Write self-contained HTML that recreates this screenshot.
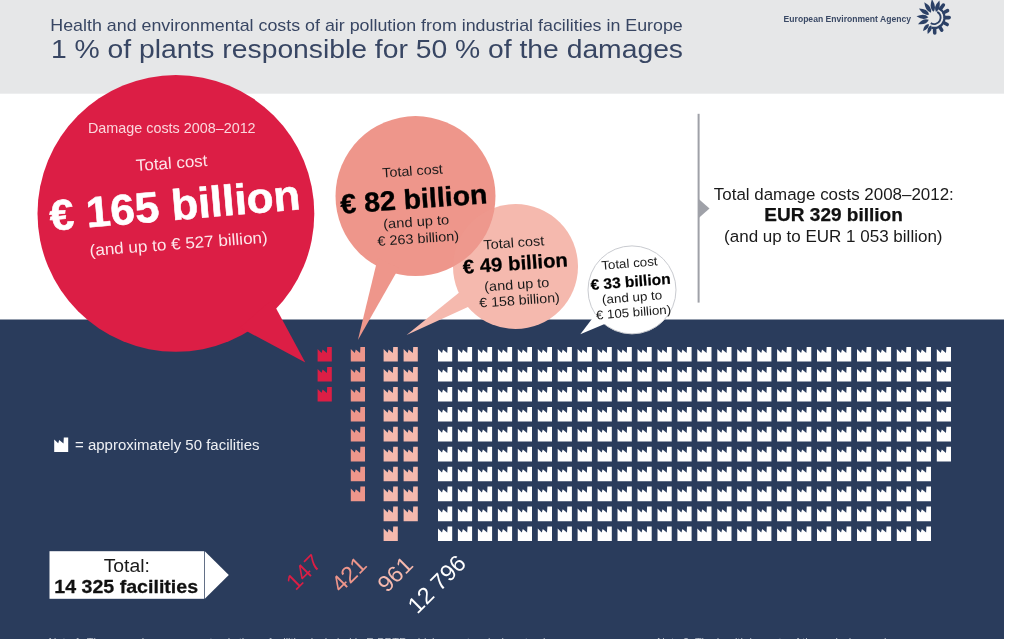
<!DOCTYPE html>
<html lang="en">
<head>
<meta charset="utf-8">
<title>1 % of plants responsible for 50 % of the damages</title>
<style>
html,body{margin:0;padding:0;background:#ffffff;}
body{width:1024px;height:639px;overflow:hidden;font-family:"Liberation Sans",sans-serif;}
svg{display:block;}
svg text{font-family:"Liberation Sans",sans-serif;}
</style>
</head>
<body>
<svg width="1024" height="639" viewBox="0 0 1024 639">
<rect x="0" y="0" width="1024" height="639" fill="#ffffff"/>
<rect x="0" y="0" width="1004" height="93.7" fill="#e6e7e8"/>
<rect x="0" y="319.5" width="1004" height="320" fill="#2a3c5c"/>
<!-- bubbles -->
<g fill="#dc1e45">
<circle cx="175.9" cy="213.4" r="138.4"/>
<path d="M240 327.6 L305.3 362.5 L271.6 300Z"/>
</g>
<g fill="#f5b9ae">
<circle cx="515.5" cy="266.5" r="62.5"/>
<path d="M466 286.9 L406.6 335 L480 301.4Z"/>
</g>
<g fill="#ee968b">
<circle cx="415.5" cy="196.1" r="80"/>
<path d="M377.8 258 L357.9 340.1 L398.9 268Z"/>
</g>
<clipPath id="c2"><circle cx="415.5" cy="196.1" r="80"/></clipPath>
<circle cx="515.5" cy="266.5" r="62.5" fill="#f5b9ae" opacity="0.07" clip-path="url(#c2)"/>
<g fill="#ffffff">
<circle cx="632" cy="289.9" r="44" stroke="#c9cbd0" stroke-width="1"/>
<path d="M596.3 313.3 L580.3 334.2 L607 323.1Z"/>
</g>
<!-- right divider -->
<rect x="697.6" y="113.8" width="2" height="188.8" fill="#9fa1a8"/>
<path d="M699 199.3 L709.5 208.5 L699 217.7Z" fill="#9fa1a8"/>
<!-- logo -->
<g fill="#2b4066" transform="translate(934.2 17.6) scale(1.045) translate(-934.2 -17.6)"><path d="M933.52 12.04 Q937.05 7.58 932.04 0.03 Q929.01 8.57 933.52 12.04Z"/><path d="M935.84 12.24 Q940.88 9.60 939.20 1.25 Q933.13 7.24 935.84 12.24Z"/><line x1="940.43" y1="9.02" x2="942.96" y2="5.55" stroke="#2b4066" stroke-width="3.4" stroke-linecap="round"/><line x1="943.60" y1="12.71" x2="946.97" y2="10.95" stroke="#2b4066" stroke-width="3.4" stroke-linecap="round"/><line x1="944.80" y1="17.60" x2="948.50" y2="17.60" stroke="#2b4066" stroke-width="3.4" stroke-linecap="round"/><line x1="943.56" y1="22.58" x2="946.65" y2="24.22" stroke="#2b4066" stroke-width="3.4" stroke-linecap="round"/><line x1="939.66" y1="26.69" x2="941.41" y2="29.60" stroke="#2b4066" stroke-width="3.4" stroke-linecap="round"/><line x1="934.57" y1="28.19" x2="934.71" y2="32.29" stroke="#2b4066" stroke-width="3.4" stroke-linecap="round"/><path d="M931.26 25.04 Q926.94 26.56 927.98 33.31 Q933.36 29.10 931.26 25.04Z"/><path d="M929.06 23.73 Q924.49 23.81 923.47 30.39 Q929.77 28.24 929.06 23.73Z"/><path d="M929.01 19.70 Q923.78 17.44 918.72 23.86 Q926.82 24.95 929.01 19.70Z"/><path d="M928.61 17.21 Q924.91 12.89 917.24 16.41 Q924.34 20.97 928.61 17.21Z"/><path d="M929.38 14.75 Q928.00 9.23 919.65 9.00 Q923.88 16.20 929.38 14.75Z"/><path d="M931.15 12.90 Q932.37 7.34 924.72 3.01 Q925.57 11.75 931.15 12.90Z"/><path d="M938.85 8.86 A9.9 9.9 0 0 1 931.47 27.12" fill="none" stroke="#2b4066" stroke-width="2.2"/><path d="M937.11 12.13 A6.2 6.2 0 1 1 930.91 22.86" fill="none" stroke="#2b4066" stroke-width="1.8"/></g>
<!-- icons -->
<path fill="#dc1e45" d="M317.6 349.0 L321.6 352.9 L322.6 349.6 L326.9 353.1 L327.2 347.0 L331.8 347.0 L331.8 361.6 L317.6 361.6ZM317.6 368.9 L321.6 372.8 L322.6 369.6 L326.9 373.1 L327.2 366.9 L331.8 366.9 L331.8 381.6 L317.6 381.6ZM317.6 388.9 L321.6 392.8 L322.6 389.5 L326.9 393.0 L327.2 386.9 L331.8 386.9 L331.8 401.5 L317.6 401.5Z"/>
<path fill="#ee968b" d="M350.8 349.0 L354.8 352.9 L355.8 349.6 L360.1 353.1 L360.4 347.0 L365.0 347.0 L365.0 361.6 L350.8 361.6ZM350.8 368.9 L354.8 372.8 L355.8 369.6 L360.1 373.1 L360.4 366.9 L365.0 366.9 L365.0 381.6 L350.8 381.6ZM350.8 388.9 L354.8 392.8 L355.8 389.5 L360.1 393.0 L360.4 386.9 L365.0 386.9 L365.0 401.5 L350.8 401.5ZM350.8 408.9 L354.8 412.8 L355.8 409.5 L360.1 413.0 L360.4 406.9 L365.0 406.9 L365.0 421.5 L350.8 421.5ZM350.8 428.8 L354.8 432.7 L355.8 429.4 L360.1 432.9 L360.4 426.8 L365.0 426.8 L365.0 441.4 L350.8 441.4ZM350.8 448.8 L354.8 452.6 L355.8 449.4 L360.1 452.9 L360.4 446.8 L365.0 446.8 L365.0 461.4 L350.8 461.4ZM350.8 468.7 L354.8 472.6 L355.8 469.3 L360.1 472.8 L360.4 466.7 L365.0 466.7 L365.0 481.3 L350.8 481.3ZM350.8 488.6 L354.8 492.5 L355.8 489.2 L360.1 492.8 L360.4 486.6 L365.0 486.6 L365.0 501.2 L350.8 501.2Z"/>
<path fill="#f5b9ae" d="M383.6 349.0 L387.6 352.9 L388.6 349.6 L392.9 353.1 L393.2 347.0 L397.8 347.0 L397.8 361.6 L383.6 361.6ZM383.6 368.9 L387.6 372.8 L388.6 369.6 L392.9 373.1 L393.2 366.9 L397.8 366.9 L397.8 381.6 L383.6 381.6ZM383.6 388.9 L387.6 392.8 L388.6 389.5 L392.9 393.0 L393.2 386.9 L397.8 386.9 L397.8 401.5 L383.6 401.5ZM383.6 408.9 L387.6 412.8 L388.6 409.5 L392.9 413.0 L393.2 406.9 L397.8 406.9 L397.8 421.5 L383.6 421.5ZM383.6 428.8 L387.6 432.7 L388.6 429.4 L392.9 432.9 L393.2 426.8 L397.8 426.8 L397.8 441.4 L383.6 441.4ZM383.6 448.8 L387.6 452.6 L388.6 449.4 L392.9 452.9 L393.2 446.8 L397.8 446.8 L397.8 461.4 L383.6 461.4ZM383.6 468.7 L387.6 472.6 L388.6 469.3 L392.9 472.8 L393.2 466.7 L397.8 466.7 L397.8 481.3 L383.6 481.3ZM383.6 488.6 L387.6 492.5 L388.6 489.2 L392.9 492.8 L393.2 486.6 L397.8 486.6 L397.8 501.2 L383.6 501.2ZM383.6 508.6 L387.6 512.5 L388.6 509.2 L392.9 512.7 L393.2 506.6 L397.8 506.6 L397.8 521.2 L383.6 521.2ZM383.6 528.5 L387.6 532.4 L388.6 529.1 L392.9 532.6 L393.2 526.5 L397.8 526.5 L397.8 541.1 L383.6 541.1ZM403.6 349.0 L407.6 352.9 L408.6 349.6 L412.9 353.1 L413.2 347.0 L417.8 347.0 L417.8 361.6 L403.6 361.6ZM403.6 368.9 L407.6 372.8 L408.6 369.6 L412.9 373.1 L413.2 366.9 L417.8 366.9 L417.8 381.6 L403.6 381.6ZM403.6 388.9 L407.6 392.8 L408.6 389.5 L412.9 393.0 L413.2 386.9 L417.8 386.9 L417.8 401.5 L403.6 401.5ZM403.6 408.9 L407.6 412.8 L408.6 409.5 L412.9 413.0 L413.2 406.9 L417.8 406.9 L417.8 421.5 L403.6 421.5ZM403.6 428.8 L407.6 432.7 L408.6 429.4 L412.9 432.9 L413.2 426.8 L417.8 426.8 L417.8 441.4 L403.6 441.4ZM403.6 448.8 L407.6 452.6 L408.6 449.4 L412.9 452.9 L413.2 446.8 L417.8 446.8 L417.8 461.4 L403.6 461.4ZM403.6 468.7 L407.6 472.6 L408.6 469.3 L412.9 472.8 L413.2 466.7 L417.8 466.7 L417.8 481.3 L403.6 481.3ZM403.6 488.6 L407.6 492.5 L408.6 489.2 L412.9 492.8 L413.2 486.6 L417.8 486.6 L417.8 501.2 L403.6 501.2ZM403.6 508.6 L407.6 512.5 L408.6 509.2 L412.9 512.7 L413.2 506.6 L417.8 506.6 L417.8 521.2 L403.6 521.2Z"/>
<path fill="#ffffff" d="M438.0 349.0 L442.0 352.9 L443.0 349.6 L447.3 353.1 L447.6 347.0 L452.2 347.0 L452.2 361.6 L438.0 361.6ZM457.9 349.0 L461.9 352.9 L462.9 349.6 L467.2 353.1 L467.6 347.0 L472.1 347.0 L472.1 361.6 L457.9 361.6ZM477.9 349.0 L481.9 352.9 L482.9 349.6 L487.2 353.1 L487.5 347.0 L492.1 347.0 L492.1 361.6 L477.9 361.6ZM497.9 349.0 L501.9 352.9 L502.9 349.6 L507.2 353.1 L507.5 347.0 L512.1 347.0 L512.1 361.6 L497.9 361.6ZM517.8 349.0 L521.8 352.9 L522.8 349.6 L527.1 353.1 L527.4 347.0 L532.0 347.0 L532.0 361.6 L517.8 361.6ZM537.8 349.0 L541.8 352.9 L542.8 349.6 L547.0 353.1 L547.4 347.0 L552.0 347.0 L552.0 361.6 L537.8 361.6ZM557.7 349.0 L561.7 352.9 L562.7 349.6 L567.0 353.1 L567.3 347.0 L571.9 347.0 L571.9 361.6 L557.7 361.6ZM577.6 349.0 L581.6 352.9 L582.6 349.6 L586.9 353.1 L587.2 347.0 L591.9 347.0 L591.9 361.6 L577.6 361.6ZM597.6 349.0 L601.6 352.9 L602.6 349.6 L606.9 353.1 L607.2 347.0 L611.8 347.0 L611.8 361.6 L597.6 361.6ZM617.5 349.0 L621.5 352.9 L622.5 349.6 L626.8 353.1 L627.1 347.0 L631.8 347.0 L631.8 361.6 L617.5 361.6ZM637.5 349.0 L641.5 352.9 L642.5 349.6 L646.8 353.1 L647.1 347.0 L651.7 347.0 L651.7 361.6 L637.5 361.6ZM657.5 349.0 L661.5 352.9 L662.5 349.6 L666.8 353.1 L667.1 347.0 L671.7 347.0 L671.7 361.6 L657.5 361.6ZM677.4 349.0 L681.4 352.9 L682.4 349.6 L686.7 353.1 L687.0 347.0 L691.6 347.0 L691.6 361.6 L677.4 361.6ZM697.3 349.0 L701.3 352.9 L702.3 349.6 L706.6 353.1 L706.9 347.0 L711.5 347.0 L711.5 361.6 L697.3 361.6ZM717.3 349.0 L721.3 352.9 L722.3 349.6 L726.6 353.1 L726.9 347.0 L731.5 347.0 L731.5 361.6 L717.3 361.6ZM737.2 349.0 L741.2 352.9 L742.2 349.6 L746.5 353.1 L746.9 347.0 L751.5 347.0 L751.5 361.6 L737.2 361.6ZM757.2 349.0 L761.2 352.9 L762.2 349.6 L766.5 353.1 L766.8 347.0 L771.4 347.0 L771.4 361.6 L757.2 361.6ZM777.1 349.0 L781.1 352.9 L782.1 349.6 L786.4 353.1 L786.8 347.0 L791.4 347.0 L791.4 361.6 L777.1 361.6ZM797.1 349.0 L801.1 352.9 L802.1 349.6 L806.4 353.1 L806.7 347.0 L811.3 347.0 L811.3 361.6 L797.1 361.6ZM817.0 349.0 L821.0 352.9 L822.0 349.6 L826.3 353.1 L826.6 347.0 L831.2 347.0 L831.2 361.6 L817.0 361.6ZM837.0 349.0 L841.0 352.9 L842.0 349.6 L846.3 353.1 L846.6 347.0 L851.2 347.0 L851.2 361.6 L837.0 361.6ZM857.0 349.0 L861.0 352.9 L862.0 349.6 L866.2 353.1 L866.6 347.0 L871.2 347.0 L871.2 361.6 L857.0 361.6ZM876.9 349.0 L880.9 352.9 L881.9 349.6 L886.2 353.1 L886.5 347.0 L891.1 347.0 L891.1 361.6 L876.9 361.6ZM896.8 349.0 L900.8 352.9 L901.8 349.6 L906.1 353.1 L906.4 347.0 L911.0 347.0 L911.0 361.6 L896.8 361.6ZM916.8 349.0 L920.8 352.9 L921.8 349.6 L926.1 353.1 L926.4 347.0 L931.0 347.0 L931.0 361.6 L916.8 361.6ZM936.8 349.0 L940.8 352.9 L941.8 349.6 L946.0 353.1 L946.4 347.0 L951.0 347.0 L951.0 361.6 L936.8 361.6ZM438.0 368.9 L442.0 372.8 L443.0 369.6 L447.3 373.1 L447.6 366.9 L452.2 366.9 L452.2 381.6 L438.0 381.6ZM457.9 368.9 L461.9 372.8 L462.9 369.6 L467.2 373.1 L467.6 366.9 L472.1 366.9 L472.1 381.6 L457.9 381.6ZM477.9 368.9 L481.9 372.8 L482.9 369.6 L487.2 373.1 L487.5 366.9 L492.1 366.9 L492.1 381.6 L477.9 381.6ZM497.9 368.9 L501.9 372.8 L502.9 369.6 L507.2 373.1 L507.5 366.9 L512.1 366.9 L512.1 381.6 L497.9 381.6ZM517.8 368.9 L521.8 372.8 L522.8 369.6 L527.1 373.1 L527.4 366.9 L532.0 366.9 L532.0 381.6 L517.8 381.6ZM537.8 368.9 L541.8 372.8 L542.8 369.6 L547.0 373.1 L547.4 366.9 L552.0 366.9 L552.0 381.6 L537.8 381.6ZM557.7 368.9 L561.7 372.8 L562.7 369.6 L567.0 373.1 L567.3 366.9 L571.9 366.9 L571.9 381.6 L557.7 381.6ZM577.6 368.9 L581.6 372.8 L582.6 369.6 L586.9 373.1 L587.2 366.9 L591.9 366.9 L591.9 381.6 L577.6 381.6ZM597.6 368.9 L601.6 372.8 L602.6 369.6 L606.9 373.1 L607.2 366.9 L611.8 366.9 L611.8 381.6 L597.6 381.6ZM617.5 368.9 L621.5 372.8 L622.5 369.6 L626.8 373.1 L627.1 366.9 L631.8 366.9 L631.8 381.6 L617.5 381.6ZM637.5 368.9 L641.5 372.8 L642.5 369.6 L646.8 373.1 L647.1 366.9 L651.7 366.9 L651.7 381.6 L637.5 381.6ZM657.5 368.9 L661.5 372.8 L662.5 369.6 L666.8 373.1 L667.1 366.9 L671.7 366.9 L671.7 381.6 L657.5 381.6ZM677.4 368.9 L681.4 372.8 L682.4 369.6 L686.7 373.1 L687.0 366.9 L691.6 366.9 L691.6 381.6 L677.4 381.6ZM697.3 368.9 L701.3 372.8 L702.3 369.6 L706.6 373.1 L706.9 366.9 L711.5 366.9 L711.5 381.6 L697.3 381.6ZM717.3 368.9 L721.3 372.8 L722.3 369.6 L726.6 373.1 L726.9 366.9 L731.5 366.9 L731.5 381.6 L717.3 381.6ZM737.2 368.9 L741.2 372.8 L742.2 369.6 L746.5 373.1 L746.9 366.9 L751.5 366.9 L751.5 381.6 L737.2 381.6ZM757.2 368.9 L761.2 372.8 L762.2 369.6 L766.5 373.1 L766.8 366.9 L771.4 366.9 L771.4 381.6 L757.2 381.6ZM777.1 368.9 L781.1 372.8 L782.1 369.6 L786.4 373.1 L786.8 366.9 L791.4 366.9 L791.4 381.6 L777.1 381.6ZM797.1 368.9 L801.1 372.8 L802.1 369.6 L806.4 373.1 L806.7 366.9 L811.3 366.9 L811.3 381.6 L797.1 381.6ZM817.0 368.9 L821.0 372.8 L822.0 369.6 L826.3 373.1 L826.6 366.9 L831.2 366.9 L831.2 381.6 L817.0 381.6ZM837.0 368.9 L841.0 372.8 L842.0 369.6 L846.3 373.1 L846.6 366.9 L851.2 366.9 L851.2 381.6 L837.0 381.6ZM857.0 368.9 L861.0 372.8 L862.0 369.6 L866.2 373.1 L866.6 366.9 L871.2 366.9 L871.2 381.6 L857.0 381.6ZM876.9 368.9 L880.9 372.8 L881.9 369.6 L886.2 373.1 L886.5 366.9 L891.1 366.9 L891.1 381.6 L876.9 381.6ZM896.8 368.9 L900.8 372.8 L901.8 369.6 L906.1 373.1 L906.4 366.9 L911.0 366.9 L911.0 381.6 L896.8 381.6ZM916.8 368.9 L920.8 372.8 L921.8 369.6 L926.1 373.1 L926.4 366.9 L931.0 366.9 L931.0 381.6 L916.8 381.6ZM936.8 368.9 L940.8 372.8 L941.8 369.6 L946.0 373.1 L946.4 366.9 L951.0 366.9 L951.0 381.6 L936.8 381.6ZM438.0 388.9 L442.0 392.8 L443.0 389.5 L447.3 393.0 L447.6 386.9 L452.2 386.9 L452.2 401.5 L438.0 401.5ZM457.9 388.9 L461.9 392.8 L462.9 389.5 L467.2 393.0 L467.6 386.9 L472.1 386.9 L472.1 401.5 L457.9 401.5ZM477.9 388.9 L481.9 392.8 L482.9 389.5 L487.2 393.0 L487.5 386.9 L492.1 386.9 L492.1 401.5 L477.9 401.5ZM497.9 388.9 L501.9 392.8 L502.9 389.5 L507.2 393.0 L507.5 386.9 L512.1 386.9 L512.1 401.5 L497.9 401.5ZM517.8 388.9 L521.8 392.8 L522.8 389.5 L527.1 393.0 L527.4 386.9 L532.0 386.9 L532.0 401.5 L517.8 401.5ZM537.8 388.9 L541.8 392.8 L542.8 389.5 L547.0 393.0 L547.4 386.9 L552.0 386.9 L552.0 401.5 L537.8 401.5ZM557.7 388.9 L561.7 392.8 L562.7 389.5 L567.0 393.0 L567.3 386.9 L571.9 386.9 L571.9 401.5 L557.7 401.5ZM577.6 388.9 L581.6 392.8 L582.6 389.5 L586.9 393.0 L587.2 386.9 L591.9 386.9 L591.9 401.5 L577.6 401.5ZM597.6 388.9 L601.6 392.8 L602.6 389.5 L606.9 393.0 L607.2 386.9 L611.8 386.9 L611.8 401.5 L597.6 401.5ZM617.5 388.9 L621.5 392.8 L622.5 389.5 L626.8 393.0 L627.1 386.9 L631.8 386.9 L631.8 401.5 L617.5 401.5ZM637.5 388.9 L641.5 392.8 L642.5 389.5 L646.8 393.0 L647.1 386.9 L651.7 386.9 L651.7 401.5 L637.5 401.5ZM657.5 388.9 L661.5 392.8 L662.5 389.5 L666.8 393.0 L667.1 386.9 L671.7 386.9 L671.7 401.5 L657.5 401.5ZM677.4 388.9 L681.4 392.8 L682.4 389.5 L686.7 393.0 L687.0 386.9 L691.6 386.9 L691.6 401.5 L677.4 401.5ZM697.3 388.9 L701.3 392.8 L702.3 389.5 L706.6 393.0 L706.9 386.9 L711.5 386.9 L711.5 401.5 L697.3 401.5ZM717.3 388.9 L721.3 392.8 L722.3 389.5 L726.6 393.0 L726.9 386.9 L731.5 386.9 L731.5 401.5 L717.3 401.5ZM737.2 388.9 L741.2 392.8 L742.2 389.5 L746.5 393.0 L746.9 386.9 L751.5 386.9 L751.5 401.5 L737.2 401.5ZM757.2 388.9 L761.2 392.8 L762.2 389.5 L766.5 393.0 L766.8 386.9 L771.4 386.9 L771.4 401.5 L757.2 401.5ZM777.1 388.9 L781.1 392.8 L782.1 389.5 L786.4 393.0 L786.8 386.9 L791.4 386.9 L791.4 401.5 L777.1 401.5ZM797.1 388.9 L801.1 392.8 L802.1 389.5 L806.4 393.0 L806.7 386.9 L811.3 386.9 L811.3 401.5 L797.1 401.5ZM817.0 388.9 L821.0 392.8 L822.0 389.5 L826.3 393.0 L826.6 386.9 L831.2 386.9 L831.2 401.5 L817.0 401.5ZM837.0 388.9 L841.0 392.8 L842.0 389.5 L846.3 393.0 L846.6 386.9 L851.2 386.9 L851.2 401.5 L837.0 401.5ZM857.0 388.9 L861.0 392.8 L862.0 389.5 L866.2 393.0 L866.6 386.9 L871.2 386.9 L871.2 401.5 L857.0 401.5ZM876.9 388.9 L880.9 392.8 L881.9 389.5 L886.2 393.0 L886.5 386.9 L891.1 386.9 L891.1 401.5 L876.9 401.5ZM896.8 388.9 L900.8 392.8 L901.8 389.5 L906.1 393.0 L906.4 386.9 L911.0 386.9 L911.0 401.5 L896.8 401.5ZM916.8 388.9 L920.8 392.8 L921.8 389.5 L926.1 393.0 L926.4 386.9 L931.0 386.9 L931.0 401.5 L916.8 401.5ZM936.8 388.9 L940.8 392.8 L941.8 389.5 L946.0 393.0 L946.4 386.9 L951.0 386.9 L951.0 401.5 L936.8 401.5ZM438.0 408.9 L442.0 412.8 L443.0 409.5 L447.3 413.0 L447.6 406.9 L452.2 406.9 L452.2 421.5 L438.0 421.5ZM457.9 408.9 L461.9 412.8 L462.9 409.5 L467.2 413.0 L467.6 406.9 L472.1 406.9 L472.1 421.5 L457.9 421.5ZM477.9 408.9 L481.9 412.8 L482.9 409.5 L487.2 413.0 L487.5 406.9 L492.1 406.9 L492.1 421.5 L477.9 421.5ZM497.9 408.9 L501.9 412.8 L502.9 409.5 L507.2 413.0 L507.5 406.9 L512.1 406.9 L512.1 421.5 L497.9 421.5ZM517.8 408.9 L521.8 412.8 L522.8 409.5 L527.1 413.0 L527.4 406.9 L532.0 406.9 L532.0 421.5 L517.8 421.5ZM537.8 408.9 L541.8 412.8 L542.8 409.5 L547.0 413.0 L547.4 406.9 L552.0 406.9 L552.0 421.5 L537.8 421.5ZM557.7 408.9 L561.7 412.8 L562.7 409.5 L567.0 413.0 L567.3 406.9 L571.9 406.9 L571.9 421.5 L557.7 421.5ZM577.6 408.9 L581.6 412.8 L582.6 409.5 L586.9 413.0 L587.2 406.9 L591.9 406.9 L591.9 421.5 L577.6 421.5ZM597.6 408.9 L601.6 412.8 L602.6 409.5 L606.9 413.0 L607.2 406.9 L611.8 406.9 L611.8 421.5 L597.6 421.5ZM617.5 408.9 L621.5 412.8 L622.5 409.5 L626.8 413.0 L627.1 406.9 L631.8 406.9 L631.8 421.5 L617.5 421.5ZM637.5 408.9 L641.5 412.8 L642.5 409.5 L646.8 413.0 L647.1 406.9 L651.7 406.9 L651.7 421.5 L637.5 421.5ZM657.5 408.9 L661.5 412.8 L662.5 409.5 L666.8 413.0 L667.1 406.9 L671.7 406.9 L671.7 421.5 L657.5 421.5ZM677.4 408.9 L681.4 412.8 L682.4 409.5 L686.7 413.0 L687.0 406.9 L691.6 406.9 L691.6 421.5 L677.4 421.5ZM697.3 408.9 L701.3 412.8 L702.3 409.5 L706.6 413.0 L706.9 406.9 L711.5 406.9 L711.5 421.5 L697.3 421.5ZM717.3 408.9 L721.3 412.8 L722.3 409.5 L726.6 413.0 L726.9 406.9 L731.5 406.9 L731.5 421.5 L717.3 421.5ZM737.2 408.9 L741.2 412.8 L742.2 409.5 L746.5 413.0 L746.9 406.9 L751.5 406.9 L751.5 421.5 L737.2 421.5ZM757.2 408.9 L761.2 412.8 L762.2 409.5 L766.5 413.0 L766.8 406.9 L771.4 406.9 L771.4 421.5 L757.2 421.5ZM777.1 408.9 L781.1 412.8 L782.1 409.5 L786.4 413.0 L786.8 406.9 L791.4 406.9 L791.4 421.5 L777.1 421.5ZM797.1 408.9 L801.1 412.8 L802.1 409.5 L806.4 413.0 L806.7 406.9 L811.3 406.9 L811.3 421.5 L797.1 421.5ZM817.0 408.9 L821.0 412.8 L822.0 409.5 L826.3 413.0 L826.6 406.9 L831.2 406.9 L831.2 421.5 L817.0 421.5ZM837.0 408.9 L841.0 412.8 L842.0 409.5 L846.3 413.0 L846.6 406.9 L851.2 406.9 L851.2 421.5 L837.0 421.5ZM857.0 408.9 L861.0 412.8 L862.0 409.5 L866.2 413.0 L866.6 406.9 L871.2 406.9 L871.2 421.5 L857.0 421.5ZM876.9 408.9 L880.9 412.8 L881.9 409.5 L886.2 413.0 L886.5 406.9 L891.1 406.9 L891.1 421.5 L876.9 421.5ZM896.8 408.9 L900.8 412.8 L901.8 409.5 L906.1 413.0 L906.4 406.9 L911.0 406.9 L911.0 421.5 L896.8 421.5ZM916.8 408.9 L920.8 412.8 L921.8 409.5 L926.1 413.0 L926.4 406.9 L931.0 406.9 L931.0 421.5 L916.8 421.5ZM936.8 408.9 L940.8 412.8 L941.8 409.5 L946.0 413.0 L946.4 406.9 L951.0 406.9 L951.0 421.5 L936.8 421.5ZM438.0 428.8 L442.0 432.7 L443.0 429.4 L447.3 432.9 L447.6 426.8 L452.2 426.8 L452.2 441.4 L438.0 441.4ZM457.9 428.8 L461.9 432.7 L462.9 429.4 L467.2 432.9 L467.6 426.8 L472.1 426.8 L472.1 441.4 L457.9 441.4ZM477.9 428.8 L481.9 432.7 L482.9 429.4 L487.2 432.9 L487.5 426.8 L492.1 426.8 L492.1 441.4 L477.9 441.4ZM497.9 428.8 L501.9 432.7 L502.9 429.4 L507.2 432.9 L507.5 426.8 L512.1 426.8 L512.1 441.4 L497.9 441.4ZM517.8 428.8 L521.8 432.7 L522.8 429.4 L527.1 432.9 L527.4 426.8 L532.0 426.8 L532.0 441.4 L517.8 441.4ZM537.8 428.8 L541.8 432.7 L542.8 429.4 L547.0 432.9 L547.4 426.8 L552.0 426.8 L552.0 441.4 L537.8 441.4ZM557.7 428.8 L561.7 432.7 L562.7 429.4 L567.0 432.9 L567.3 426.8 L571.9 426.8 L571.9 441.4 L557.7 441.4ZM577.6 428.8 L581.6 432.7 L582.6 429.4 L586.9 432.9 L587.2 426.8 L591.9 426.8 L591.9 441.4 L577.6 441.4ZM597.6 428.8 L601.6 432.7 L602.6 429.4 L606.9 432.9 L607.2 426.8 L611.8 426.8 L611.8 441.4 L597.6 441.4ZM617.5 428.8 L621.5 432.7 L622.5 429.4 L626.8 432.9 L627.1 426.8 L631.8 426.8 L631.8 441.4 L617.5 441.4ZM637.5 428.8 L641.5 432.7 L642.5 429.4 L646.8 432.9 L647.1 426.8 L651.7 426.8 L651.7 441.4 L637.5 441.4ZM657.5 428.8 L661.5 432.7 L662.5 429.4 L666.8 432.9 L667.1 426.8 L671.7 426.8 L671.7 441.4 L657.5 441.4ZM677.4 428.8 L681.4 432.7 L682.4 429.4 L686.7 432.9 L687.0 426.8 L691.6 426.8 L691.6 441.4 L677.4 441.4ZM697.3 428.8 L701.3 432.7 L702.3 429.4 L706.6 432.9 L706.9 426.8 L711.5 426.8 L711.5 441.4 L697.3 441.4ZM717.3 428.8 L721.3 432.7 L722.3 429.4 L726.6 432.9 L726.9 426.8 L731.5 426.8 L731.5 441.4 L717.3 441.4ZM737.2 428.8 L741.2 432.7 L742.2 429.4 L746.5 432.9 L746.9 426.8 L751.5 426.8 L751.5 441.4 L737.2 441.4ZM757.2 428.8 L761.2 432.7 L762.2 429.4 L766.5 432.9 L766.8 426.8 L771.4 426.8 L771.4 441.4 L757.2 441.4ZM777.1 428.8 L781.1 432.7 L782.1 429.4 L786.4 432.9 L786.8 426.8 L791.4 426.8 L791.4 441.4 L777.1 441.4ZM797.1 428.8 L801.1 432.7 L802.1 429.4 L806.4 432.9 L806.7 426.8 L811.3 426.8 L811.3 441.4 L797.1 441.4ZM817.0 428.8 L821.0 432.7 L822.0 429.4 L826.3 432.9 L826.6 426.8 L831.2 426.8 L831.2 441.4 L817.0 441.4ZM837.0 428.8 L841.0 432.7 L842.0 429.4 L846.3 432.9 L846.6 426.8 L851.2 426.8 L851.2 441.4 L837.0 441.4ZM857.0 428.8 L861.0 432.7 L862.0 429.4 L866.2 432.9 L866.6 426.8 L871.2 426.8 L871.2 441.4 L857.0 441.4ZM876.9 428.8 L880.9 432.7 L881.9 429.4 L886.2 432.9 L886.5 426.8 L891.1 426.8 L891.1 441.4 L876.9 441.4ZM896.8 428.8 L900.8 432.7 L901.8 429.4 L906.1 432.9 L906.4 426.8 L911.0 426.8 L911.0 441.4 L896.8 441.4ZM916.8 428.8 L920.8 432.7 L921.8 429.4 L926.1 432.9 L926.4 426.8 L931.0 426.8 L931.0 441.4 L916.8 441.4ZM936.8 428.8 L940.8 432.7 L941.8 429.4 L946.0 432.9 L946.4 426.8 L951.0 426.8 L951.0 441.4 L936.8 441.4ZM438.0 448.8 L442.0 452.6 L443.0 449.4 L447.3 452.9 L447.6 446.8 L452.2 446.8 L452.2 461.4 L438.0 461.4ZM457.9 448.8 L461.9 452.6 L462.9 449.4 L467.2 452.9 L467.6 446.8 L472.1 446.8 L472.1 461.4 L457.9 461.4ZM477.9 448.8 L481.9 452.6 L482.9 449.4 L487.2 452.9 L487.5 446.8 L492.1 446.8 L492.1 461.4 L477.9 461.4ZM497.9 448.8 L501.9 452.6 L502.9 449.4 L507.2 452.9 L507.5 446.8 L512.1 446.8 L512.1 461.4 L497.9 461.4ZM517.8 448.8 L521.8 452.6 L522.8 449.4 L527.1 452.9 L527.4 446.8 L532.0 446.8 L532.0 461.4 L517.8 461.4ZM537.8 448.8 L541.8 452.6 L542.8 449.4 L547.0 452.9 L547.4 446.8 L552.0 446.8 L552.0 461.4 L537.8 461.4ZM557.7 448.8 L561.7 452.6 L562.7 449.4 L567.0 452.9 L567.3 446.8 L571.9 446.8 L571.9 461.4 L557.7 461.4ZM577.6 448.8 L581.6 452.6 L582.6 449.4 L586.9 452.9 L587.2 446.8 L591.9 446.8 L591.9 461.4 L577.6 461.4ZM597.6 448.8 L601.6 452.6 L602.6 449.4 L606.9 452.9 L607.2 446.8 L611.8 446.8 L611.8 461.4 L597.6 461.4ZM617.5 448.8 L621.5 452.6 L622.5 449.4 L626.8 452.9 L627.1 446.8 L631.8 446.8 L631.8 461.4 L617.5 461.4ZM637.5 448.8 L641.5 452.6 L642.5 449.4 L646.8 452.9 L647.1 446.8 L651.7 446.8 L651.7 461.4 L637.5 461.4ZM657.5 448.8 L661.5 452.6 L662.5 449.4 L666.8 452.9 L667.1 446.8 L671.7 446.8 L671.7 461.4 L657.5 461.4ZM677.4 448.8 L681.4 452.6 L682.4 449.4 L686.7 452.9 L687.0 446.8 L691.6 446.8 L691.6 461.4 L677.4 461.4ZM697.3 448.8 L701.3 452.6 L702.3 449.4 L706.6 452.9 L706.9 446.8 L711.5 446.8 L711.5 461.4 L697.3 461.4ZM717.3 448.8 L721.3 452.6 L722.3 449.4 L726.6 452.9 L726.9 446.8 L731.5 446.8 L731.5 461.4 L717.3 461.4ZM737.2 448.8 L741.2 452.6 L742.2 449.4 L746.5 452.9 L746.9 446.8 L751.5 446.8 L751.5 461.4 L737.2 461.4ZM757.2 448.8 L761.2 452.6 L762.2 449.4 L766.5 452.9 L766.8 446.8 L771.4 446.8 L771.4 461.4 L757.2 461.4ZM777.1 448.8 L781.1 452.6 L782.1 449.4 L786.4 452.9 L786.8 446.8 L791.4 446.8 L791.4 461.4 L777.1 461.4ZM797.1 448.8 L801.1 452.6 L802.1 449.4 L806.4 452.9 L806.7 446.8 L811.3 446.8 L811.3 461.4 L797.1 461.4ZM817.0 448.8 L821.0 452.6 L822.0 449.4 L826.3 452.9 L826.6 446.8 L831.2 446.8 L831.2 461.4 L817.0 461.4ZM837.0 448.8 L841.0 452.6 L842.0 449.4 L846.3 452.9 L846.6 446.8 L851.2 446.8 L851.2 461.4 L837.0 461.4ZM857.0 448.8 L861.0 452.6 L862.0 449.4 L866.2 452.9 L866.6 446.8 L871.2 446.8 L871.2 461.4 L857.0 461.4ZM876.9 448.8 L880.9 452.6 L881.9 449.4 L886.2 452.9 L886.5 446.8 L891.1 446.8 L891.1 461.4 L876.9 461.4ZM896.8 448.8 L900.8 452.6 L901.8 449.4 L906.1 452.9 L906.4 446.8 L911.0 446.8 L911.0 461.4 L896.8 461.4ZM916.8 448.8 L920.8 452.6 L921.8 449.4 L926.1 452.9 L926.4 446.8 L931.0 446.8 L931.0 461.4 L916.8 461.4ZM936.8 448.8 L940.8 452.6 L941.8 449.4 L946.0 452.9 L946.4 446.8 L951.0 446.8 L951.0 461.4 L936.8 461.4ZM438.0 468.7 L442.0 472.6 L443.0 469.3 L447.3 472.8 L447.6 466.7 L452.2 466.7 L452.2 481.3 L438.0 481.3ZM457.9 468.7 L461.9 472.6 L462.9 469.3 L467.2 472.8 L467.6 466.7 L472.1 466.7 L472.1 481.3 L457.9 481.3ZM477.9 468.7 L481.9 472.6 L482.9 469.3 L487.2 472.8 L487.5 466.7 L492.1 466.7 L492.1 481.3 L477.9 481.3ZM497.9 468.7 L501.9 472.6 L502.9 469.3 L507.2 472.8 L507.5 466.7 L512.1 466.7 L512.1 481.3 L497.9 481.3ZM517.8 468.7 L521.8 472.6 L522.8 469.3 L527.1 472.8 L527.4 466.7 L532.0 466.7 L532.0 481.3 L517.8 481.3ZM537.8 468.7 L541.8 472.6 L542.8 469.3 L547.0 472.8 L547.4 466.7 L552.0 466.7 L552.0 481.3 L537.8 481.3ZM557.7 468.7 L561.7 472.6 L562.7 469.3 L567.0 472.8 L567.3 466.7 L571.9 466.7 L571.9 481.3 L557.7 481.3ZM577.6 468.7 L581.6 472.6 L582.6 469.3 L586.9 472.8 L587.2 466.7 L591.9 466.7 L591.9 481.3 L577.6 481.3ZM597.6 468.7 L601.6 472.6 L602.6 469.3 L606.9 472.8 L607.2 466.7 L611.8 466.7 L611.8 481.3 L597.6 481.3ZM617.5 468.7 L621.5 472.6 L622.5 469.3 L626.8 472.8 L627.1 466.7 L631.8 466.7 L631.8 481.3 L617.5 481.3ZM637.5 468.7 L641.5 472.6 L642.5 469.3 L646.8 472.8 L647.1 466.7 L651.7 466.7 L651.7 481.3 L637.5 481.3ZM657.5 468.7 L661.5 472.6 L662.5 469.3 L666.8 472.8 L667.1 466.7 L671.7 466.7 L671.7 481.3 L657.5 481.3ZM677.4 468.7 L681.4 472.6 L682.4 469.3 L686.7 472.8 L687.0 466.7 L691.6 466.7 L691.6 481.3 L677.4 481.3ZM697.3 468.7 L701.3 472.6 L702.3 469.3 L706.6 472.8 L706.9 466.7 L711.5 466.7 L711.5 481.3 L697.3 481.3ZM717.3 468.7 L721.3 472.6 L722.3 469.3 L726.6 472.8 L726.9 466.7 L731.5 466.7 L731.5 481.3 L717.3 481.3ZM737.2 468.7 L741.2 472.6 L742.2 469.3 L746.5 472.8 L746.9 466.7 L751.5 466.7 L751.5 481.3 L737.2 481.3ZM757.2 468.7 L761.2 472.6 L762.2 469.3 L766.5 472.8 L766.8 466.7 L771.4 466.7 L771.4 481.3 L757.2 481.3ZM777.1 468.7 L781.1 472.6 L782.1 469.3 L786.4 472.8 L786.8 466.7 L791.4 466.7 L791.4 481.3 L777.1 481.3ZM797.1 468.7 L801.1 472.6 L802.1 469.3 L806.4 472.8 L806.7 466.7 L811.3 466.7 L811.3 481.3 L797.1 481.3ZM817.0 468.7 L821.0 472.6 L822.0 469.3 L826.3 472.8 L826.6 466.7 L831.2 466.7 L831.2 481.3 L817.0 481.3ZM837.0 468.7 L841.0 472.6 L842.0 469.3 L846.3 472.8 L846.6 466.7 L851.2 466.7 L851.2 481.3 L837.0 481.3ZM857.0 468.7 L861.0 472.6 L862.0 469.3 L866.2 472.8 L866.6 466.7 L871.2 466.7 L871.2 481.3 L857.0 481.3ZM876.9 468.7 L880.9 472.6 L881.9 469.3 L886.2 472.8 L886.5 466.7 L891.1 466.7 L891.1 481.3 L876.9 481.3ZM896.8 468.7 L900.8 472.6 L901.8 469.3 L906.1 472.8 L906.4 466.7 L911.0 466.7 L911.0 481.3 L896.8 481.3ZM916.8 468.7 L920.8 472.6 L921.8 469.3 L926.1 472.8 L926.4 466.7 L931.0 466.7 L931.0 481.3 L916.8 481.3ZM438.0 488.6 L442.0 492.5 L443.0 489.2 L447.3 492.8 L447.6 486.6 L452.2 486.6 L452.2 501.2 L438.0 501.2ZM457.9 488.6 L461.9 492.5 L462.9 489.2 L467.2 492.8 L467.6 486.6 L472.1 486.6 L472.1 501.2 L457.9 501.2ZM477.9 488.6 L481.9 492.5 L482.9 489.2 L487.2 492.8 L487.5 486.6 L492.1 486.6 L492.1 501.2 L477.9 501.2ZM497.9 488.6 L501.9 492.5 L502.9 489.2 L507.2 492.8 L507.5 486.6 L512.1 486.6 L512.1 501.2 L497.9 501.2ZM517.8 488.6 L521.8 492.5 L522.8 489.2 L527.1 492.8 L527.4 486.6 L532.0 486.6 L532.0 501.2 L517.8 501.2ZM537.8 488.6 L541.8 492.5 L542.8 489.2 L547.0 492.8 L547.4 486.6 L552.0 486.6 L552.0 501.2 L537.8 501.2ZM557.7 488.6 L561.7 492.5 L562.7 489.2 L567.0 492.8 L567.3 486.6 L571.9 486.6 L571.9 501.2 L557.7 501.2ZM577.6 488.6 L581.6 492.5 L582.6 489.2 L586.9 492.8 L587.2 486.6 L591.9 486.6 L591.9 501.2 L577.6 501.2ZM597.6 488.6 L601.6 492.5 L602.6 489.2 L606.9 492.8 L607.2 486.6 L611.8 486.6 L611.8 501.2 L597.6 501.2ZM617.5 488.6 L621.5 492.5 L622.5 489.2 L626.8 492.8 L627.1 486.6 L631.8 486.6 L631.8 501.2 L617.5 501.2ZM637.5 488.6 L641.5 492.5 L642.5 489.2 L646.8 492.8 L647.1 486.6 L651.7 486.6 L651.7 501.2 L637.5 501.2ZM657.5 488.6 L661.5 492.5 L662.5 489.2 L666.8 492.8 L667.1 486.6 L671.7 486.6 L671.7 501.2 L657.5 501.2ZM677.4 488.6 L681.4 492.5 L682.4 489.2 L686.7 492.8 L687.0 486.6 L691.6 486.6 L691.6 501.2 L677.4 501.2ZM697.3 488.6 L701.3 492.5 L702.3 489.2 L706.6 492.8 L706.9 486.6 L711.5 486.6 L711.5 501.2 L697.3 501.2ZM717.3 488.6 L721.3 492.5 L722.3 489.2 L726.6 492.8 L726.9 486.6 L731.5 486.6 L731.5 501.2 L717.3 501.2ZM737.2 488.6 L741.2 492.5 L742.2 489.2 L746.5 492.8 L746.9 486.6 L751.5 486.6 L751.5 501.2 L737.2 501.2ZM757.2 488.6 L761.2 492.5 L762.2 489.2 L766.5 492.8 L766.8 486.6 L771.4 486.6 L771.4 501.2 L757.2 501.2ZM777.1 488.6 L781.1 492.5 L782.1 489.2 L786.4 492.8 L786.8 486.6 L791.4 486.6 L791.4 501.2 L777.1 501.2ZM797.1 488.6 L801.1 492.5 L802.1 489.2 L806.4 492.8 L806.7 486.6 L811.3 486.6 L811.3 501.2 L797.1 501.2ZM817.0 488.6 L821.0 492.5 L822.0 489.2 L826.3 492.8 L826.6 486.6 L831.2 486.6 L831.2 501.2 L817.0 501.2ZM837.0 488.6 L841.0 492.5 L842.0 489.2 L846.3 492.8 L846.6 486.6 L851.2 486.6 L851.2 501.2 L837.0 501.2ZM857.0 488.6 L861.0 492.5 L862.0 489.2 L866.2 492.8 L866.6 486.6 L871.2 486.6 L871.2 501.2 L857.0 501.2ZM876.9 488.6 L880.9 492.5 L881.9 489.2 L886.2 492.8 L886.5 486.6 L891.1 486.6 L891.1 501.2 L876.9 501.2ZM896.8 488.6 L900.8 492.5 L901.8 489.2 L906.1 492.8 L906.4 486.6 L911.0 486.6 L911.0 501.2 L896.8 501.2ZM916.8 488.6 L920.8 492.5 L921.8 489.2 L926.1 492.8 L926.4 486.6 L931.0 486.6 L931.0 501.2 L916.8 501.2ZM438.0 508.6 L442.0 512.5 L443.0 509.2 L447.3 512.7 L447.6 506.6 L452.2 506.6 L452.2 521.2 L438.0 521.2ZM457.9 508.6 L461.9 512.5 L462.9 509.2 L467.2 512.7 L467.6 506.6 L472.1 506.6 L472.1 521.2 L457.9 521.2ZM477.9 508.6 L481.9 512.5 L482.9 509.2 L487.2 512.7 L487.5 506.6 L492.1 506.6 L492.1 521.2 L477.9 521.2ZM497.9 508.6 L501.9 512.5 L502.9 509.2 L507.2 512.7 L507.5 506.6 L512.1 506.6 L512.1 521.2 L497.9 521.2ZM517.8 508.6 L521.8 512.5 L522.8 509.2 L527.1 512.7 L527.4 506.6 L532.0 506.6 L532.0 521.2 L517.8 521.2ZM537.8 508.6 L541.8 512.5 L542.8 509.2 L547.0 512.7 L547.4 506.6 L552.0 506.6 L552.0 521.2 L537.8 521.2ZM557.7 508.6 L561.7 512.5 L562.7 509.2 L567.0 512.7 L567.3 506.6 L571.9 506.6 L571.9 521.2 L557.7 521.2ZM577.6 508.6 L581.6 512.5 L582.6 509.2 L586.9 512.7 L587.2 506.6 L591.9 506.6 L591.9 521.2 L577.6 521.2ZM597.6 508.6 L601.6 512.5 L602.6 509.2 L606.9 512.7 L607.2 506.6 L611.8 506.6 L611.8 521.2 L597.6 521.2ZM617.5 508.6 L621.5 512.5 L622.5 509.2 L626.8 512.7 L627.1 506.6 L631.8 506.6 L631.8 521.2 L617.5 521.2ZM637.5 508.6 L641.5 512.5 L642.5 509.2 L646.8 512.7 L647.1 506.6 L651.7 506.6 L651.7 521.2 L637.5 521.2ZM657.5 508.6 L661.5 512.5 L662.5 509.2 L666.8 512.7 L667.1 506.6 L671.7 506.6 L671.7 521.2 L657.5 521.2ZM677.4 508.6 L681.4 512.5 L682.4 509.2 L686.7 512.7 L687.0 506.6 L691.6 506.6 L691.6 521.2 L677.4 521.2ZM697.3 508.6 L701.3 512.5 L702.3 509.2 L706.6 512.7 L706.9 506.6 L711.5 506.6 L711.5 521.2 L697.3 521.2ZM717.3 508.6 L721.3 512.5 L722.3 509.2 L726.6 512.7 L726.9 506.6 L731.5 506.6 L731.5 521.2 L717.3 521.2ZM737.2 508.6 L741.2 512.5 L742.2 509.2 L746.5 512.7 L746.9 506.6 L751.5 506.6 L751.5 521.2 L737.2 521.2ZM757.2 508.6 L761.2 512.5 L762.2 509.2 L766.5 512.7 L766.8 506.6 L771.4 506.6 L771.4 521.2 L757.2 521.2ZM777.1 508.6 L781.1 512.5 L782.1 509.2 L786.4 512.7 L786.8 506.6 L791.4 506.6 L791.4 521.2 L777.1 521.2ZM797.1 508.6 L801.1 512.5 L802.1 509.2 L806.4 512.7 L806.7 506.6 L811.3 506.6 L811.3 521.2 L797.1 521.2ZM817.0 508.6 L821.0 512.5 L822.0 509.2 L826.3 512.7 L826.6 506.6 L831.2 506.6 L831.2 521.2 L817.0 521.2ZM837.0 508.6 L841.0 512.5 L842.0 509.2 L846.3 512.7 L846.6 506.6 L851.2 506.6 L851.2 521.2 L837.0 521.2ZM857.0 508.6 L861.0 512.5 L862.0 509.2 L866.2 512.7 L866.6 506.6 L871.2 506.6 L871.2 521.2 L857.0 521.2ZM876.9 508.6 L880.9 512.5 L881.9 509.2 L886.2 512.7 L886.5 506.6 L891.1 506.6 L891.1 521.2 L876.9 521.2ZM896.8 508.6 L900.8 512.5 L901.8 509.2 L906.1 512.7 L906.4 506.6 L911.0 506.6 L911.0 521.2 L896.8 521.2ZM916.8 508.6 L920.8 512.5 L921.8 509.2 L926.1 512.7 L926.4 506.6 L931.0 506.6 L931.0 521.2 L916.8 521.2ZM438.0 528.5 L442.0 532.4 L443.0 529.1 L447.3 532.6 L447.6 526.5 L452.2 526.5 L452.2 541.1 L438.0 541.1ZM457.9 528.5 L461.9 532.4 L462.9 529.1 L467.2 532.6 L467.6 526.5 L472.1 526.5 L472.1 541.1 L457.9 541.1ZM477.9 528.5 L481.9 532.4 L482.9 529.1 L487.2 532.6 L487.5 526.5 L492.1 526.5 L492.1 541.1 L477.9 541.1ZM497.9 528.5 L501.9 532.4 L502.9 529.1 L507.2 532.6 L507.5 526.5 L512.1 526.5 L512.1 541.1 L497.9 541.1ZM517.8 528.5 L521.8 532.4 L522.8 529.1 L527.1 532.6 L527.4 526.5 L532.0 526.5 L532.0 541.1 L517.8 541.1ZM537.8 528.5 L541.8 532.4 L542.8 529.1 L547.0 532.6 L547.4 526.5 L552.0 526.5 L552.0 541.1 L537.8 541.1ZM557.7 528.5 L561.7 532.4 L562.7 529.1 L567.0 532.6 L567.3 526.5 L571.9 526.5 L571.9 541.1 L557.7 541.1ZM577.6 528.5 L581.6 532.4 L582.6 529.1 L586.9 532.6 L587.2 526.5 L591.9 526.5 L591.9 541.1 L577.6 541.1ZM597.6 528.5 L601.6 532.4 L602.6 529.1 L606.9 532.6 L607.2 526.5 L611.8 526.5 L611.8 541.1 L597.6 541.1ZM617.5 528.5 L621.5 532.4 L622.5 529.1 L626.8 532.6 L627.1 526.5 L631.8 526.5 L631.8 541.1 L617.5 541.1ZM637.5 528.5 L641.5 532.4 L642.5 529.1 L646.8 532.6 L647.1 526.5 L651.7 526.5 L651.7 541.1 L637.5 541.1ZM657.5 528.5 L661.5 532.4 L662.5 529.1 L666.8 532.6 L667.1 526.5 L671.7 526.5 L671.7 541.1 L657.5 541.1ZM677.4 528.5 L681.4 532.4 L682.4 529.1 L686.7 532.6 L687.0 526.5 L691.6 526.5 L691.6 541.1 L677.4 541.1ZM697.3 528.5 L701.3 532.4 L702.3 529.1 L706.6 532.6 L706.9 526.5 L711.5 526.5 L711.5 541.1 L697.3 541.1ZM717.3 528.5 L721.3 532.4 L722.3 529.1 L726.6 532.6 L726.9 526.5 L731.5 526.5 L731.5 541.1 L717.3 541.1ZM737.2 528.5 L741.2 532.4 L742.2 529.1 L746.5 532.6 L746.9 526.5 L751.5 526.5 L751.5 541.1 L737.2 541.1ZM757.2 528.5 L761.2 532.4 L762.2 529.1 L766.5 532.6 L766.8 526.5 L771.4 526.5 L771.4 541.1 L757.2 541.1ZM777.1 528.5 L781.1 532.4 L782.1 529.1 L786.4 532.6 L786.8 526.5 L791.4 526.5 L791.4 541.1 L777.1 541.1ZM797.1 528.5 L801.1 532.4 L802.1 529.1 L806.4 532.6 L806.7 526.5 L811.3 526.5 L811.3 541.1 L797.1 541.1ZM817.0 528.5 L821.0 532.4 L822.0 529.1 L826.3 532.6 L826.6 526.5 L831.2 526.5 L831.2 541.1 L817.0 541.1ZM837.0 528.5 L841.0 532.4 L842.0 529.1 L846.3 532.6 L846.6 526.5 L851.2 526.5 L851.2 541.1 L837.0 541.1ZM857.0 528.5 L861.0 532.4 L862.0 529.1 L866.2 532.6 L866.6 526.5 L871.2 526.5 L871.2 541.1 L857.0 541.1ZM876.9 528.5 L880.9 532.4 L881.9 529.1 L886.2 532.6 L886.5 526.5 L891.1 526.5 L891.1 541.1 L876.9 541.1ZM896.8 528.5 L900.8 532.4 L901.8 529.1 L906.1 532.6 L906.4 526.5 L911.0 526.5 L911.0 541.1 L896.8 541.1ZM916.8 528.5 L920.8 532.4 L921.8 529.1 L926.1 532.6 L926.4 526.5 L931.0 526.5 L931.0 541.1 L916.8 541.1Z"/>
<path fill="#ffffff" d="M54.2 439.4 L58.2 443.3 L59.2 440.0 L63.5 443.5 L63.8 437.4 L68.2 437.4 L68.2 452.0 L54.2 452.0Z"/>
<!-- total box -->
<rect x="49.5" y="551.2" width="154.6" height="47.6" fill="#ffffff"/>
<path d="M204.8 551.2 L228.8 575 L204.8 598.8Z" fill="#ffffff"/>
<text x="50.3" y="31.1" font-size="16.2" font-weight="400" fill="#384663" text-anchor="start" textLength="632.5" lengthAdjust="spacingAndGlyphs" >Health and environmental costs of air pollution from industrial facilities in Europe</text>
<text x="51" y="58.3" font-size="26.5" font-weight="400" fill="#384663" text-anchor="start" textLength="632" lengthAdjust="spacingAndGlyphs" >1 % of plants responsible for 50 % of the damages</text>
<text x="783.6" y="21.5" font-size="9.6" font-weight="700" fill="#3b4a66" text-anchor="start" textLength="127.4" lengthAdjust="spacingAndGlyphs" >European Environment Agency</text>
<text x="171.8" y="133.0" font-size="14.2" font-weight="400" fill="#fbd6dc" text-anchor="middle" textLength="167.6" lengthAdjust="spacingAndGlyphs" >Damage costs 2008–2012</text>
<text x="172" y="168.5" font-size="16.3" font-weight="400" fill="#fde4e8" text-anchor="middle" textLength="71.5" lengthAdjust="spacingAndGlyphs" transform="rotate(-4 172 168.5)" >Total cost</text>
<text x="176.0" y="219.9" font-size="43" font-weight="700" fill="#ffffff" text-anchor="middle" textLength="251.5" lengthAdjust="spacingAndGlyphs" stroke="#ffffff" stroke-width="0.60" stroke-linejoin="round" transform="rotate(-4.9 176.0 219.9)" >€ 165 billion</text>
<text x="179" y="249.2" font-size="16.2" font-weight="400" fill="#fde6ea" text-anchor="middle" textLength="178.5" lengthAdjust="spacingAndGlyphs" transform="rotate(-4.3 179 249.2)" >(and up to € 527 billion)</text>
<text x="412.8" y="175.5" font-size="13.5" font-weight="400" fill="#1a1a1a" text-anchor="middle" textLength="60.6" lengthAdjust="spacingAndGlyphs" transform="rotate(-4 412.8 175.5)" >Total cost</text>
<text x="414.5" y="208.5" font-size="27.4" font-weight="700" fill="#000" text-anchor="middle" textLength="147.2" lengthAdjust="spacingAndGlyphs" stroke="#000" stroke-width="0.38" stroke-linejoin="round" transform="rotate(-4 414.5 208.5)" >€ 82 billion</text>
<text x="416.5" y="226.4" font-size="13.5" font-weight="400" fill="#1a1a1a" text-anchor="middle" textLength="66.2" lengthAdjust="spacingAndGlyphs" transform="rotate(-4 416.5 226.4)" >(and up to</text>
<text x="418.5" y="243.1" font-size="13.5" font-weight="400" fill="#1a1a1a" text-anchor="middle" textLength="81.8" lengthAdjust="spacingAndGlyphs" transform="rotate(-4 418.5 243.1)" >€ 263 billion)</text>
<text x="514.1" y="247.3" font-size="13.5" font-weight="400" fill="#1a1a1a" text-anchor="middle" textLength="60.8" lengthAdjust="spacingAndGlyphs" transform="rotate(-4 514.1 247.3)" >Total cost</text>
<text x="515.8" y="270" font-size="19.6" font-weight="700" fill="#000" text-anchor="middle" textLength="105.2" lengthAdjust="spacingAndGlyphs" stroke="#000" stroke-width="0.27" stroke-linejoin="round" transform="rotate(-4 515.8 270)" >€ 49 billion</text>
<text x="517" y="289.1" font-size="13.5" font-weight="400" fill="#1a1a1a" text-anchor="middle" textLength="65" lengthAdjust="spacingAndGlyphs" transform="rotate(-4 517 289.1)" >(and up to</text>
<text x="519.8" y="304.8" font-size="13.5" font-weight="400" fill="#1a1a1a" text-anchor="middle" textLength="80.6" lengthAdjust="spacingAndGlyphs" transform="rotate(-4 519.8 304.8)" >€ 158 billion)</text>
<text x="629.7" y="267.5" font-size="12.4" font-weight="400" fill="#1a1a1a" text-anchor="middle" textLength="56.3" lengthAdjust="spacingAndGlyphs" transform="rotate(-4.5 629.7 267.5)" >Total cost</text>
<text x="630.9" y="286.8" font-size="15" font-weight="700" fill="#000" text-anchor="middle" textLength="80.2" lengthAdjust="spacingAndGlyphs" stroke="#000" stroke-width="0.21" stroke-linejoin="round" transform="rotate(-4.5 630.9 286.8)" >€ 33 billion</text>
<text x="632.4" y="301.5" font-size="12.4" font-weight="400" fill="#1a1a1a" text-anchor="middle" textLength="60.3" lengthAdjust="spacingAndGlyphs" transform="rotate(-4.5 632.4 301.5)" >(and up to</text>
<text x="633.8" y="316.5" font-size="12.4" font-weight="400" fill="#1a1a1a" text-anchor="middle" textLength="75.4" lengthAdjust="spacingAndGlyphs" transform="rotate(-4.5 633.8 316.5)" >€ 105 billion)</text>
<text x="833.8" y="200" font-size="16.3" font-weight="400" fill="#1a1a1a" text-anchor="middle" textLength="240" lengthAdjust="spacingAndGlyphs" >Total damage costs 2008–2012:</text>
<text x="833.6" y="221.3" font-size="18" font-weight="700" fill="#111" text-anchor="middle" textLength="138.5" lengthAdjust="spacingAndGlyphs" stroke="#111" stroke-width="0.25" stroke-linejoin="round" >EUR 329 billion</text>
<text x="833.3" y="242" font-size="16.3" font-weight="400" fill="#1a1a1a" text-anchor="middle" textLength="218.5" lengthAdjust="spacingAndGlyphs" >(and up to EUR 1 053 billion)</text>
<text x="75" y="450" font-size="14" font-weight="400" fill="#eef0f4" text-anchor="start" textLength="184.5" lengthAdjust="spacingAndGlyphs" >= approximately 50 facilities</text>
<text x="126.8" y="572" font-size="18" font-weight="400" fill="#1a1a1a" text-anchor="middle" textLength="46.3" lengthAdjust="spacingAndGlyphs" >Total:</text>
<text x="126.2" y="593" font-size="18.4" font-weight="700" fill="#111" text-anchor="middle" textLength="143.8" lengthAdjust="spacingAndGlyphs" stroke="#111" stroke-width="0.26" stroke-linejoin="round" >14 325 facilities</text>
<text x="323" y="564" font-size="23" font-weight="400" fill="#dc1e45" text-anchor="end" textLength="39" lengthAdjust="spacingAndGlyphs" transform="rotate(-45 323 564)" >147</text>
<text x="368.3" y="566" font-size="23" font-weight="400" fill="#ee968b" text-anchor="end" textLength="39" lengthAdjust="spacingAndGlyphs" transform="rotate(-45 368.3 566)" >421</text>
<text x="414.5" y="566" font-size="23" font-weight="400" fill="#f5b9ae" text-anchor="end" textLength="39" lengthAdjust="spacingAndGlyphs" transform="rotate(-45 414.5 566)" >961</text>
<text x="467.5" y="564.5" font-size="23" font-weight="400" fill="#ffffff" text-anchor="end" textLength="71" lengthAdjust="spacingAndGlyphs" transform="rotate(-45 467.5 564.5)" >12 796</text>
<text x="48.5" y="646.2" font-size="10.5" font-weight="400" fill="#b4bbc8" text-anchor="start" textLength="503" lengthAdjust="spacingAndGlyphs" >Note 1: These numbers represent only those facilities included in E-PRTR which report emissions to air.</text>
<text x="657" y="646.2" font-size="10.5" font-weight="400" fill="#b4bbc8" text-anchor="start" textLength="237" lengthAdjust="spacingAndGlyphs" >Note 2: The health impacts of the emissions only.</text>
</svg>
</body>
</html>
